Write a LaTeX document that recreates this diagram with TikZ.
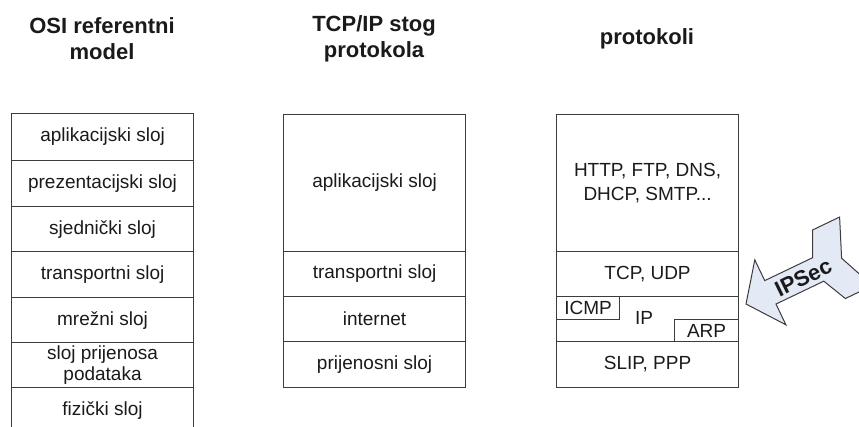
\documentclass[tikz,border=0pt]{standalone}
\usepackage{fontspec}
\setmainfont{Liberation Sans}
\definecolor{edge}{HTML}{3C3C3C}
\definecolor{ink}{HTML}{1A1A1A}
\definecolor{arrowfill}{HTML}{E4E9F6}
\tikzset{
  layer/.style={draw=edge, line width=1.1pt, minimum width=182pt, inner sep=0pt,
    anchor=north west, align=center, text=ink, font=\fontsize{19}{20.5}\selectfont},
  smallbox/.style={draw=edge, line width=1.1pt, inner sep=0pt, anchor=north west,
    text=ink, font=\fontsize{19}{21}\selectfont},
  coltitle/.style={font=\bfseries\fontsize{22}{26}\selectfont, text=ink, align=center},
}
\begin{document}
\begin{tikzpicture}[x=1pt, y=-1pt]
\useasboundingbox (0,0) rectangle (859,426);
\clip (0,0) rectangle (859,426);

% column headings
\node[coltitle] (tosi) at (102,38.5) {OSI referentni\\model};
\node[coltitle] (ttcp) at (374,38.5) {TCP/IP stog\\protokola};
\node[coltitle] (tpro) at (647,39) {protokoli};

% OSI reference model (bottom layer runs off the page)
\node[layer, minimum height=47pt] (o1) at (11,113) {aplikacijski sloj};
\node[layer, minimum height=46pt] (o2) at (11,160) {prezentacijski sloj};
\node[layer, minimum height=45pt] (o3) at (11,206) {sjednički sloj};
\node[layer, minimum height=46pt] (o4) at (11,251) {transportni sloj};
\node[layer, minimum height=45pt] (o5) at (11,297) {mrežni sloj};
\node[layer, minimum height=45pt] (o6) at (11,342) {sloj prijenosa\\podataka};
\node[layer, minimum height=46pt] (o7) at (11,387) {fizički sloj};

% TCP/IP stack
\node[layer, minimum height=137pt] (s1) at (283,114) {aplikacijski sloj};
\node[layer, minimum height=45pt] (s2) at (283,251) {transportni sloj};
\node[layer, minimum height=45pt] (s3) at (283,296) {internet};
\node[layer, minimum height=46pt] (s4) at (283,341) {prijenosni sloj};

% protocols
\node[layer, minimum height=137pt, font=\fontsize{19}{24}\selectfont] (p1) at (556,114) {HTTP, FTP, DNS,\\DHCP, SMTP...};
\node[layer, minimum height=45pt] (p2) at (556,251) {TCP, UDP};
\node[layer, minimum height=45pt] (p3) at (556,296) {};
\node[text=ink, font=\fontsize{19}{21}\selectfont] (pip) at (644,318) {IP};
\node[smallbox, minimum width=63pt, minimum height=23pt] (picmp) at (556,296) {ICMP};
\node[smallbox, minimum width=64pt, minimum height=22pt] (parp) at (674,319) {ARP};
\node[layer, minimum height=46pt] (p4) at (556,341) {SLIP, PPP};

% IPSec arrow pointing at the protocol stack
\coordinate (tip) at (746,304);
\begin{scope}[shift={(tip)}, x=1pt, y=1pt, rotate=25.6]
  \draw[edge, fill=arrowfill, line width=1pt, line join=miter]
    (0,0) -- (27,36) -- (27,13) -- (80,13) -- (92,38) -- (122,38) -- (106,0)
    -- (122,-38) -- (92,-38) -- (80,-13) -- (27,-13) -- (27,-36) -- cycle;
  \node[rotate=26, text=ink, inner sep=0pt, font=\bfseries\fontsize{22}{24}\selectfont] (ipsec) at (63,-1) {IPSec};
\end{scope}
\end{tikzpicture}
\end{document}
